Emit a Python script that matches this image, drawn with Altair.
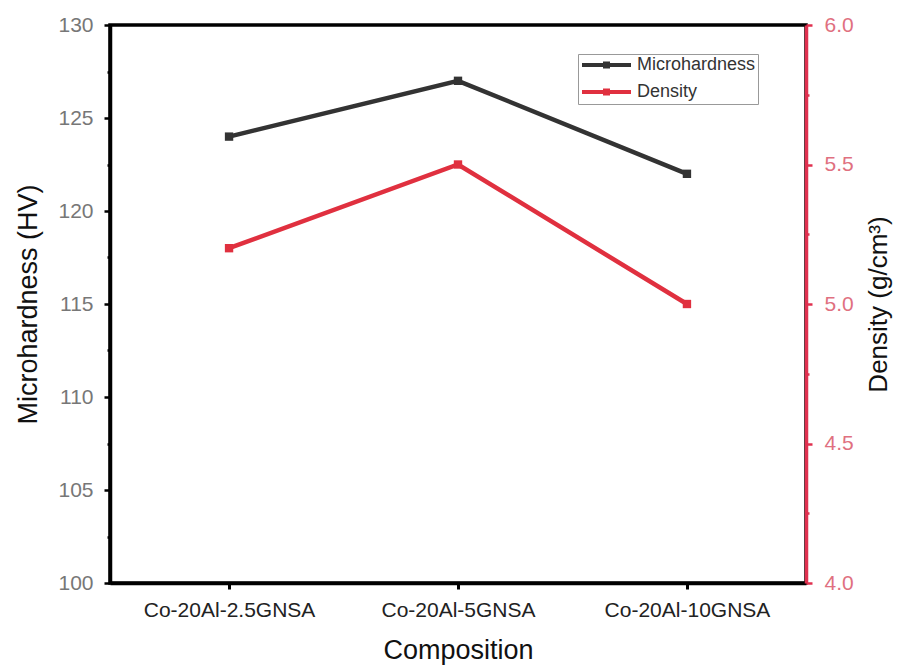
import altair as alt
import pandas as pd

categories = ["Co-20Al-2.5GNSA", "Co-20Al-5GNSA", "Co-20Al-10GNSA"]
microhardness = [124, 127, 122]
density = [5.2, 5.5, 5.0]
series_names = ["Microhardness", "Density"]
series_colors = ["#333333", "#e0303f"]

hv_ticks = [100 + 2.5 * i for i in range(13)]
dens_ticks = [4.0 + 0.25 * i for i in range(9)]

df_hv = pd.DataFrame({"Composition": categories, "value": microhardness, "Series": "Microhardness"})
df_d = pd.DataFrame({"Composition": categories, "value": density, "Series": "Density"})

FONT = "Liberation Sans"

x_enc = alt.X(
    "Composition:N",
    sort=categories,
    scale=alt.Scale(type="point", padding=0.52),
    axis=alt.Axis(
        title="Composition", labelAngle=0, labelFontSize=21, labelColor="#222222",
        titleFontSize=27, titleFontWeight="normal", titlePadding=17, titleColor="#111111",
        domainColor="black", domainWidth=3.5, tickColor="black", tickWidth=3, tickSize=6,
        labelPadding=10,
    ),
)

color_enc = alt.Color(
    "Series:N",
    scale=alt.Scale(domain=series_names, range=series_colors),
    legend=alt.Legend(
        title=None, orient="none", legendX=468, legendY=29,
        symbolType="M-1.4,0H8.4M3.2,-0.3H3.8V0.3H3.2Z", symbolSize=100, symbolStrokeWidth=4,
        labelFontSize=18, labelColor="#333333", labelFont=FONT,
        strokeColor="#999999", padding=2, rowPadding=7, labelOffset=39,
    ),
)

hv = alt.Chart(df_hv).mark_line(strokeWidth=4.5, point=alt.OverlayMarkDef(shape="square", size=70, filled=True)).encode(
    x=x_enc,
    y=alt.Y(
        "value:Q",
        scale=alt.Scale(domain=[100, 130], nice=False, zero=False),
        axis=alt.Axis(
            title="Microhardness (HV)", orient="left", values=hv_ticks,
            labelExpr="datum.value % 5 == 0 ? format(datum.value, 'd') : ''",
            labelFontSize=21, labelColor="#777777", titleFontSize=27, titleFontWeight="normal",
            titleColor="#111111", titlePadding=15, domainColor="black", domainWidth=3.5,
            tickColor="black", tickWidth=2.5,
            tickSize={"condition": {"test": "datum.value % 5 == 0", "value": 6}, "value": 3},
            labelPadding=11, grid=False,
        ),
    ),
    color=color_enc,
)

dens = alt.Chart(df_d).mark_line(strokeWidth=4.5, point=alt.OverlayMarkDef(shape="square", size=70, filled=True)).encode(
    x=x_enc,
    y=alt.Y(
        "value:Q",
        scale=alt.Scale(domain=[4.0, 6.0], nice=False, zero=False),
        axis=alt.Axis(
            title="Density (g/cm³)", orient="right", values=dens_ticks,
            labelExpr="(datum.value * 2) % 1 == 0 ? format(datum.value, '.1f') : ''",
            labelFontSize=21, labelColor="#e07080", titleFontSize=26, titleFontWeight="normal",
            titleColor="#111111", titleAngle=270, titleBaseline="top", titlePadding=12,
            domainColor="#e0304f", domainWidth=3.5, tickColor="#e0304f", tickWidth=2.5,
            tickSize={"condition": {"test": "(datum.value * 2) % 1 == 0", "value": 6}, "value": 3},
            labelPadding=12, grid=False,
        ),
    ),
    color=color_enc,
)

chart = alt.layer(hv, dens).resolve_scale(y="independent").properties(
    width=696, height=558,
    autosize=alt.AutoSizeParams(type="none"),
    padding={"left": 110, "top": 25, "right": 98, "bottom": 89},
).configure(font=FONT).configure_view(stroke="black", strokeWidth=3.5).configure_axis(
    labelFont=FONT, titleFont=FONT
)

chart.save("out.html", embed_options={"renderer": "svg", "actions": False})
